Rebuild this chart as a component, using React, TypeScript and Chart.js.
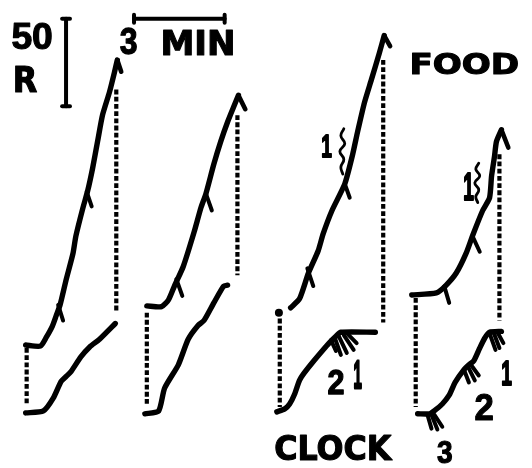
import React, { useEffect, useRef } from "react";
import { Chart, registerables } from "chart.js";

Chart.register(...registerables);

type Pt = [number, number];
type Seg = [number, number, number, number];

// x = session time (minutes), y = cumulative responses
// Upper ("FOOD") records, one per panel
const foodRecord1: Pt[] = [
  [0.717, 68.0], [1.206, 67.4], [1.402, 72.5], [1.598, 78.7], [1.728, 84.8], [1.858, 91.0],
  [2.054, 105.1], [2.282, 120.2], [2.38, 130.3], [2.608, 146.1], [2.771, 156.2], [2.934, 169.1],
  [3.097, 184.3], [3.261, 199.4], [3.489, 212.4], [3.652, 223.6], [3.75, 230.9],
];
const foodRecord2: Pt[] = [
  [4.728, 90.4], [5.217, 89.9], [5.445, 93.8], [5.641, 101.7], [5.934, 112.9], [6.293, 132.6],
  [6.521, 146.6], [6.684, 154.5], [6.945, 171.3], [7.173, 184.3], [7.401, 195.5], [7.597, 203.9],
  [7.76, 210.7],
];
const foodRecord3: Pt[] = [
  [9.488, 89.3], [9.782, 94.4], [10.075, 109.0], [10.401, 121.9], [10.564, 131.5], [10.858, 144.9],
  [11.281, 160.1], [11.542, 177.0], [11.705, 189.9], [11.934, 206.7], [12.162, 219.7],
  [12.423, 234.8], [12.586, 244.9],
];
const foodRecord4: Pt[] = [
  [13.498, 96.6], [14.314, 97.8], [14.607, 101.7], [14.966, 109.0], [15.292, 120.2], [15.52, 130.9],
  [15.846, 144.9], [16.074, 152.2], [16.14, 164.6], [16.237, 175.8], [16.302, 184.3], [16.466, 191.0],
];

// Lower ("CLOCK") records
const clockRecord1: Pt[] = [
  [0.717, 29.2], [1.304, 30.3], [1.63, 37.6], [1.891, 47.2], [2.054, 50.0], [2.217, 52.8],
  [2.543, 61.2], [2.837, 66.9], [3.163, 71.3], [3.684, 80.3],
];
const clockRecord2: Pt[] = [
  [4.663, 28.7], [5.119, 30.3], [5.315, 43.3], [5.771, 56.7], [6.097, 71.3], [6.423, 79.2],
  [6.619, 82.0], [6.945, 92.1], [7.271, 101.7], [7.401, 102.2],
];
const clockRecord3: Pt[] = [
  [9.032, 29.8], [9.293, 31.5], [9.455, 34.3], [9.618, 39.9], [9.782, 47.8], [9.945, 52.2],
  [10.205, 57.9], [10.532, 64.6], [10.76, 69.1], [10.988, 73.0], [11.151, 75.3], [12.292, 75.3],
];
const clockRecord4: Pt[] = [
  [13.694, 28.7], [14.086, 28.7], [14.281, 30.9], [14.509, 34.3], [14.737, 39.3], [14.933, 46.6],
  [15.227, 53.9], [15.39, 56.7], [15.553, 59.0], [15.748, 66.3], [15.911, 71.9], [16.074, 75.3],
  [16.466, 75.8],
];

// Pen resets (dotted verticals): [time, top, bottom]
const resetLines: [number, number, number][] = [
  [3.717, 214.0, 86.5], [0.75, 66.3, 34.3],
  [7.727, 199.4, 107.9], [4.728, 86.5, 34.3],
  [12.553, 230.9, 80.9], [9.129, 83.1, 32.6],
  [16.4, 177.0, 82.0], [13.629, 94.9, 32.6],
];

// Reinforcement pips (short strokes) on records
const pips: Seg[] = [
  [1.793, 91.0, 1.956, 82.0], [2.739, 155.6, 2.902, 147.2],
  [5.706, 105.6, 5.902, 96.1], [6.684, 154.5, 6.88, 144.9],
  [10.042, 111.8, 10.238, 101.7], [11.281, 160.1, 11.444, 152.2],
  [14.574, 101.7, 14.737, 92.1], [15.52, 129.8, 15.748, 121.3],
  [10.825, 70.8, 10.988, 64.6], [10.955, 71.9, 11.151, 62.4], [11.086, 73.0, 11.347, 63.5],
  [11.249, 73.6, 11.575, 65.2], [11.379, 74.2, 11.673, 69.1],
  [14.02, 28.1, 14.151, 20.2], [14.151, 28.1, 14.346, 19.7], [14.249, 28.1, 14.509, 21.3],
  [15.227, 53.9, 15.39, 46.6], [15.357, 55.6, 15.585, 47.8], [15.455, 56.7, 15.716, 50.6],
  [16.074, 74.7, 16.27, 65.2], [16.205, 75.3, 16.4, 66.3], [16.335, 75.3, 16.531, 69.1],
];

// End-of-record hooks
const hooks: Seg[] = [
  [3.75, 230.9, 3.88, 224.2],
  [7.76, 210.7, 7.988, 202.8],
  [12.586, 244.9, 12.781, 238.8],
  [16.466, 191.0, 16.694, 180.9],
];

// Wavy brackets beside the "1" marks
const bracket3: Pt[] = [
  [11.249, 191.6], [11.151, 187.6], [11.281, 183.1], [11.118, 178.7], [11.249, 174.2], [11.151, 169.7], [11.216, 165.7],
];
const bracket4: Pt[] = [
  [15.716, 171.9], [15.618, 168.5], [15.748, 164.6], [15.585, 160.7], [15.716, 156.7], [15.618, 152.8], [15.683, 149.4],
];

// Start dot of panel 3 upper record
const startDots: Pt[] = [[9.1, 86.5]];

// Calibration bars
const SCALE_R = 50;
const SCALE_MIN = 3;
const rBarAt: Pt = [2.054, 204.5];
const minBarAt: Pt = [4.304, 254.5];

// Texts: [text, left, top, right, bottom] ink boxes
const labels: [string, number, number, number, number][] = [
  ["50", 12, 23, 52, 50],
  ["R", 15, 65, 37, 92],
  ["3", 120, 28, 137, 55],
  ["MIN", 163, 30, 233, 55],
  ["FOOD", 412, 52, 518, 75],
  ["CLOCK", 275, 434, 393, 461],
  ["2", 328, 368, 344, 394],
  ["1", 354, 360, 362, 388],
  ["1", 322, 135, 332, 157],
  ["1", 464, 172, 474, 200],
  ["3", 437, 441, 452, 464],
  ["2", 475, 393, 493, 420],
  ["1", 502, 360, 512, 385],
];

const W = 532;
const H = 468;
const PX_PER_MIN = 30.67;
const PX_PER_R = 1.78;

const toXY = (p: Pt) => ({ x: p[0], y: p[1] });

const labelPlugin = {
  id: "figLabels",
  afterDatasetsDraw(chart: any) {
    const ctx: CanvasRenderingContext2D = chart.ctx;
    ctx.save();
    ctx.fillStyle = "#000";
    ctx.strokeStyle = "#000";
    ctx.lineJoin = "round";
    ctx.textAlign = "left";
    ctx.textBaseline = "alphabetic";
    for (const [text, x1, y1, x2, y2] of labels) {
      const isDigit = /^[0-9]+$/.test(text);
      ctx.font = isDigit ? "bold 100px 'Liberation Sans'" : "bold 100px 'DejaVu Sans'";
      const m = ctx.measureText(text);
      const w = m.actualBoundingBoxLeft + m.actualBoundingBoxRight;
      const h = m.actualBoundingBoxAscent + m.actualBoundingBoxDescent;
      const sx = (x2 - x1 - 1) / w;
      const sy = (y2 - y1 - 1) / h;
      ctx.save();
      ctx.translate(x1 + 0.5, y1 + 0.5);
      ctx.scale(sx, sy);
      ctx.lineWidth = 1.1 / Math.min(sx, sy);
      ctx.fillText(text, m.actualBoundingBoxLeft, m.actualBoundingBoxAscent);
      ctx.strokeText(text, m.actualBoundingBoxLeft, m.actualBoundingBoxAscent);
      ctx.restore();
    }
    ctx.restore();
  },
};

export default function App() {
  const ref = useRef<HTMLCanvasElement | null>(null);

  useEffect(() => {
    if (!ref.current) return;
    const base = {
      showLine: true,
      pointRadius: 0,
      borderColor: "#000",
      backgroundColor: "#000",
      borderCapStyle: "round" as const,
      borderJoinStyle: "round" as const,
      clip: false as const,
    };
    const datasets: any[] = [];
    for (const rec of [foodRecord1, foodRecord2, foodRecord3, foodRecord4, clockRecord1, clockRecord2, clockRecord3, clockRecord4]) {
      datasets.push({ ...base, data: rec.map(toXY), borderWidth: 5.4, tension: 0.2 });
    }
    for (const [x, top, bottom] of resetLines) {
      datasets.push({
        ...base,
        data: [{ x, y: top }, { x, y: bottom }],
        borderWidth: 4.2,
        borderDash: [4.8, 2.4],
        borderCapStyle: "butt",
      });
    }
    for (const s of pips) {
      datasets.push({ ...base, data: [{ x: s[0], y: s[1] }, { x: s[2], y: s[3] }], borderWidth: 4 });
    }
    for (const s of hooks) {
      datasets.push({ ...base, data: [{ x: s[0], y: s[1] }, { x: s[2], y: s[3] }], borderWidth: 4.6 });
    }
    for (const b of [bracket3, bracket4]) {
      datasets.push({ ...base, data: b.map(toXY), borderWidth: 2.8, tension: 0.45 });
    }
    datasets.push({ ...base, showLine: false, data: startDots.map(toXY), pointRadius: 4, borderWidth: 0 });
    // calibration bars
    const capR = 4 / PX_PER_MIN;
    const capM = 4 / PX_PER_R;
    const [rx, ry] = rBarAt;
    const [mx, my] = minBarAt;
    const bars: Seg[] = [
      [rx, ry, rx, ry + SCALE_R],
      [rx - capR, ry, rx + capR, ry],
      [rx - capR, ry + SCALE_R, rx + capR, ry + SCALE_R],
      [mx, my, mx + SCALE_MIN, my],
      [mx, my - capM, mx, my + capM],
      [mx + SCALE_MIN, my - capM, mx + SCALE_MIN, my + capM],
    ];
    for (const s of bars) {
      datasets.push({ ...base, data: [{ x: s[0], y: s[1] }, { x: s[2], y: s[3] }], borderWidth: 4 });
    }

    const chart = new Chart(ref.current, {
      type: "scatter",
      data: { datasets },
      options: {
        animation: false,
        responsive: false,
        devicePixelRatio: 1,
        events: [],
        layout: { padding: 0 },
        plugins: { legend: { display: false }, tooltip: { enabled: false } },
        scales: {
          x: { type: "linear", min: 0, max: W / PX_PER_MIN, display: false },
          y: { type: "linear", min: 0, max: H / PX_PER_R, display: false },
        },
      },
      plugins: [labelPlugin],
    });
    return () => chart.destroy();
  }, []);

  return (
    <div style={{ position: "fixed", left: 0, top: 0, width: W, height: H, background: "#fff" }}>
      <canvas ref={ref} width={W} height={H} style={{ width: W, height: H, display: "block" }} />
    </div>
  );
}
